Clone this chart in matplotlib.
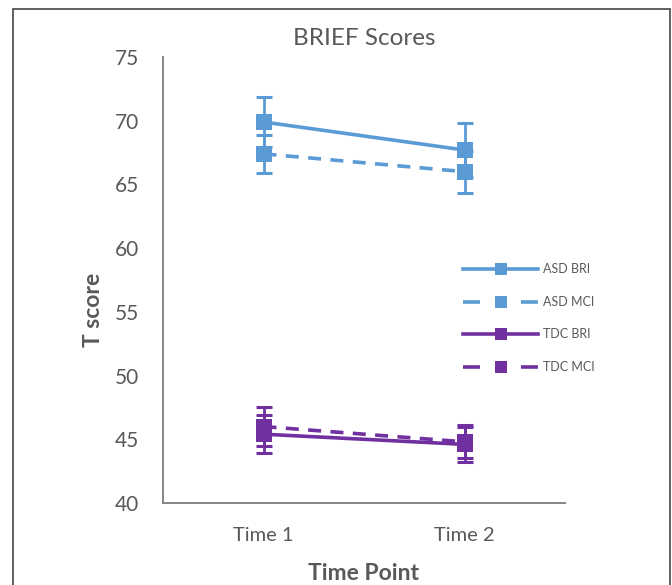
import matplotlib.pyplot as plt
from matplotlib.lines import Line2D
from matplotlib.patches import Rectangle

plt.rcParams['font.family'] = ['Lato', 'DejaVu Sans']

TIME_LABELS = ["Time 1", "Time 2"]

ASD_BRI = [69.9, 67.7]
ASD_BRI_ERR = [2.0, 2.1]
ASD_MCI = [67.4, 66.0]
ASD_MCI_ERR = [1.5, 1.65]
TDC_BRI = [45.4, 44.6]
TDC_BRI_ERR = [1.5, 1.4]
TDC_MCI = [46.0, 44.8]
TDC_MCI_ERR = [1.5, 1.3]

BLUE = "#5B9BD5"
PURPLE = "#7030A0"
GRAY = "#595959"

series = [
    ("ASD BRI", ASD_BRI, ASD_BRI_ERR, BLUE, "-"),
    ("ASD MCI", ASD_MCI, ASD_MCI_ERR, BLUE, "--"),
    ("TDC BRI", TDC_BRI, TDC_BRI_ERR, PURPLE, "-"),
    ("TDC MCI", TDC_MCI, TDC_MCI_ERR, PURPLE, "--"),
]

fig = plt.figure(figsize=(6.72, 5.85), dpi=100)
ax = fig.add_axes([163/672, 1 - 503/585, 402/672, 446/585])

x = list(range(len(TIME_LABELS)))
handles = []
for name, vals, errs, col, ls in series:
    ax.errorbar(x, vals, yerr=errs, fmt="none", ecolor=col, elinewidth=2,
                capsize=6, capthick=2.2, zorder=2)
    ln, = ax.plot(x, vals, color=col, lw=2.6, marker="s", markersize=11,
                  markeredgewidth=0, zorder=3)
    # legend key: dash - marker - dash, like the office chart
    if ls == "--":
        ln.set_dashes((3.6, 2.6))
        h = Line2D([0], [0], color=col, lw=2.6, marker="s", markersize=9,
                   markeredgewidth=0, dashes=(4.7, 11.35))
    else:
        h = Line2D([0], [0], color=col, lw=2.6, marker="s", markersize=9,
                   markeredgewidth=0)
    handles.append((h, name))

ax.set_xlim(-0.5, 1.5)
ax.set_ylim(40, 75)
ax.set_yticks(range(40, 80, 5))
ax.set_xticks(x)
ax.set_xticklabels(TIME_LABELS)
ax.tick_params(length=0, colors=GRAY, labelsize=15)
ax.tick_params(axis="x", labelsize=14.5, pad=17)
ax.tick_params(axis="y", pad=17)
for side in ["top", "right"]:
    ax.spines[side].set_visible(False)
for side in ["left", "bottom"]:
    ax.spines[side].set_color("#868686")
    ax.spines[side].set_linewidth(1.4)

ax.set_title("BRIEF Scores", color=GRAY, fontsize=17.5, pad=9)
fig.text(93/672, 1 - 310/585, "T score", rotation=90, ha="center", va="center",
         color=GRAY, fontsize=16.5, fontweight="bold")
fig.text(363/672, 1 - 573/585, "Time Point", ha="center", va="center",
         color=GRAY, fontsize=16.5, fontweight="bold")

leg = ax.legend([h for h, _ in handles], [n for _, n in handles],
                loc="upper left", bbox_to_anchor=(452/672, 1 - 252/585),
                bbox_transform=fig.transFigure, frameon=False, fontsize=9,
                handlelength=6.0, handletextpad=0.35, labelspacing=1.65,
                labelcolor=GRAY)

fig.patches.append(Rectangle((13/672, -0.05), 657/672, 1.05 - 9/585,
                             transform=fig.transFigure, fill=False,
                             edgecolor="#555555", lw=1.3))

fig.savefig("out.png", dpi=100)
